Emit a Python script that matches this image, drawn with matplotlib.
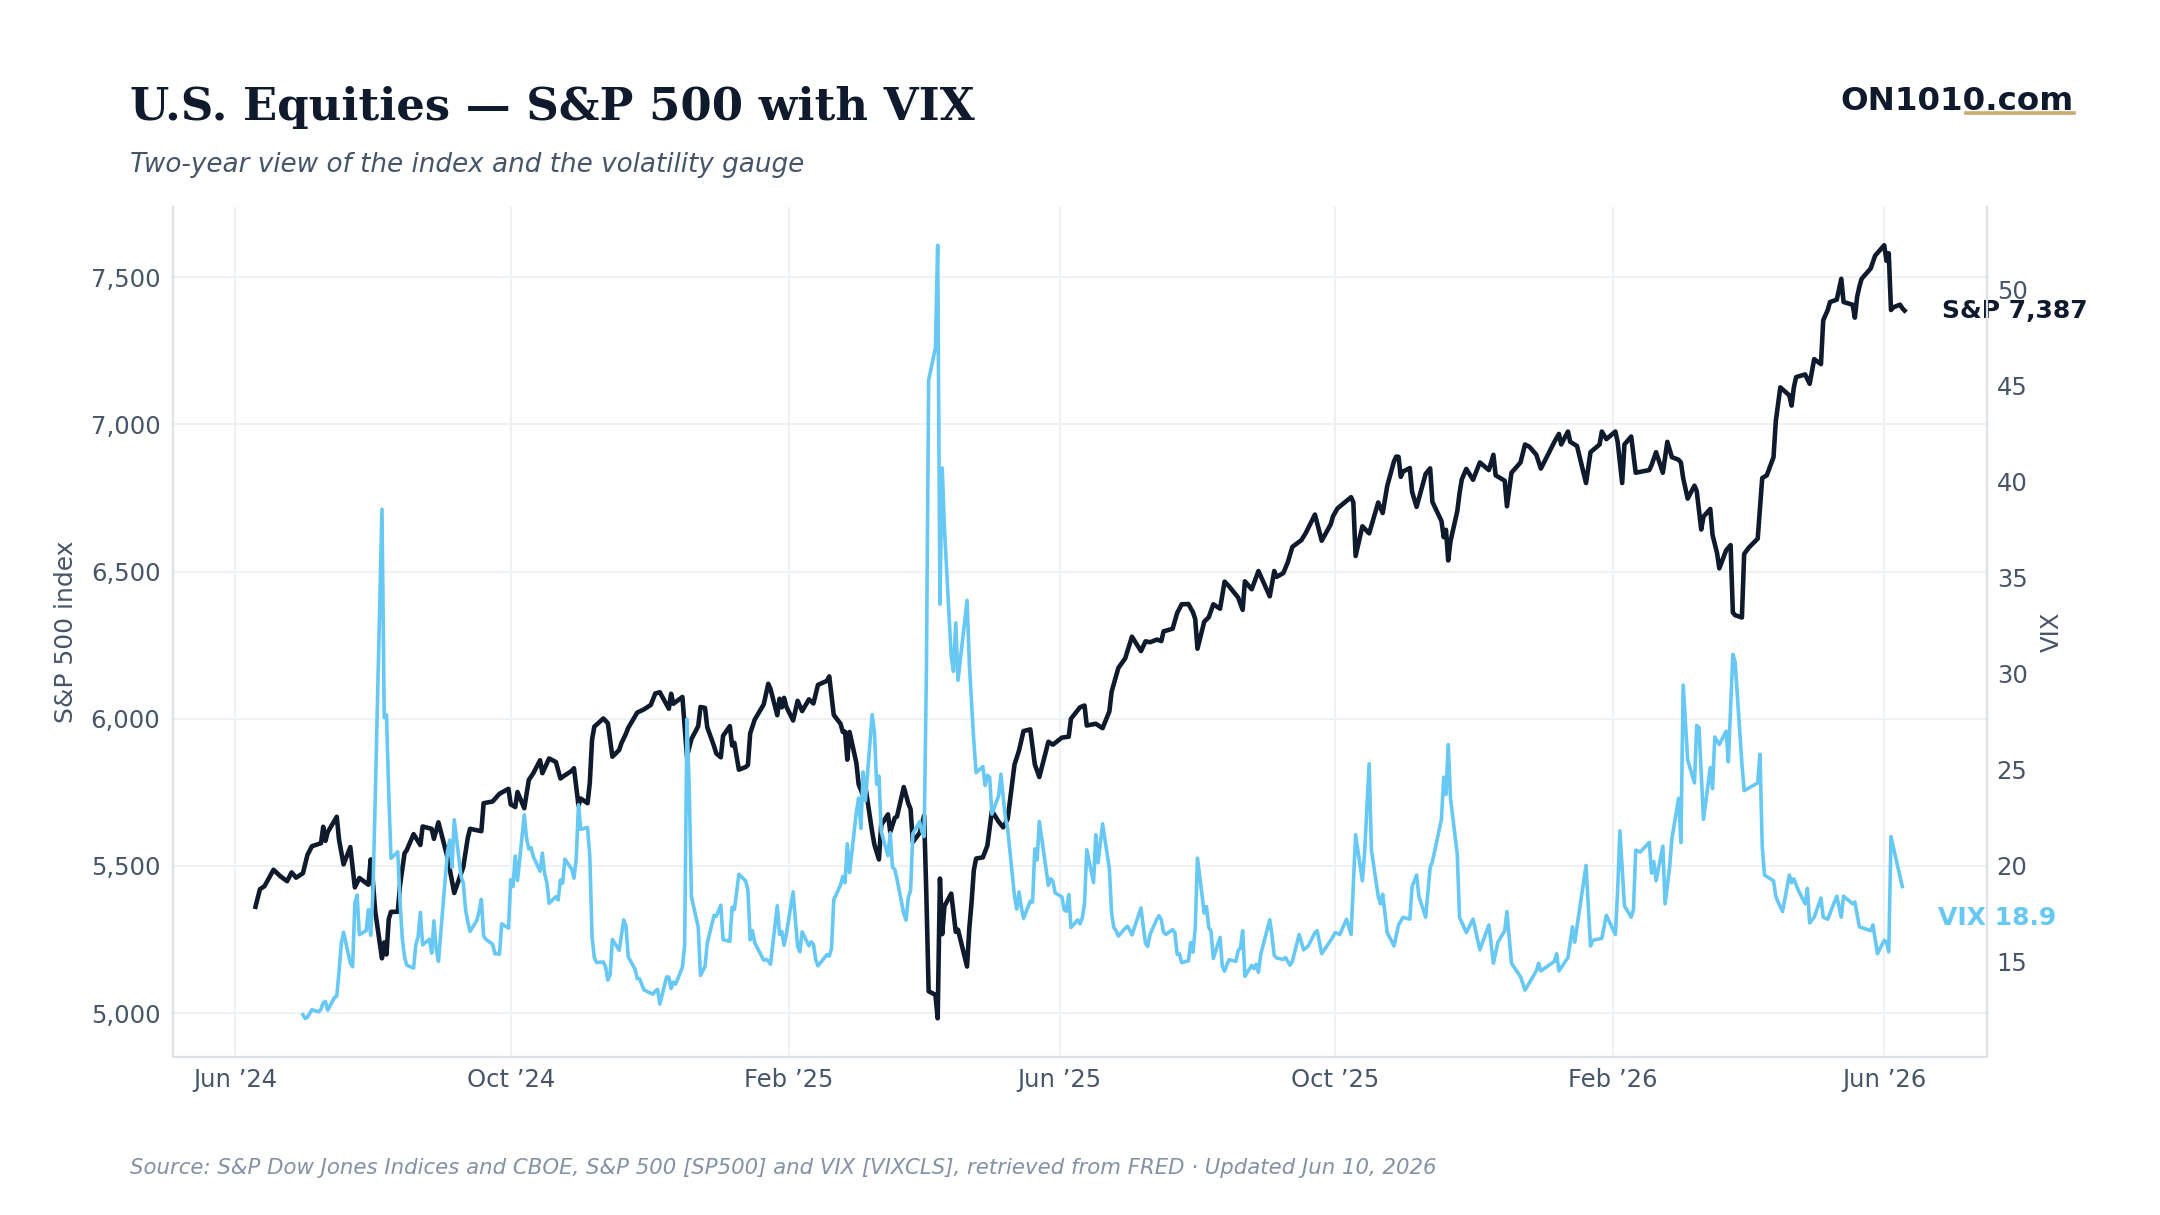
import matplotlib
matplotlib.use("Agg")
import matplotlib.pyplot as plt
import matplotlib.dates as mdates
from matplotlib.lines import Line2D
from matplotlib.ticker import FixedLocator, FuncFormatter
import pandas as pd

# S&P 500 closes
sp_dates = [
    "2024-06-10", "2024-06-12", "2024-06-14", "2024-06-18", "2024-06-21", "2024-06-24", "2024-06-26", "2024-06-28",
    "2024-07-01", "2024-07-03", "2024-07-05", "2024-07-09", "2024-07-10", "2024-07-11", "2024-07-12", "2024-07-16",
    "2024-07-17", "2024-07-19", "2024-07-22", "2024-07-24", "2024-07-26", "2024-07-30", "2024-07-31",
    "2024-08-01", "2024-08-02", "2024-08-05", "2024-08-06", "2024-08-07", "2024-08-08", "2024-08-09", "2024-08-12",
    "2024-08-13", "2024-08-15", "2024-08-16", "2024-08-19", "2024-08-22", "2024-08-23", "2024-08-27", "2024-08-28",
    "2024-08-30", "2024-09-03", "2024-09-06", "2024-09-10", "2024-09-12", "2024-09-13", "2024-09-18", "2024-09-19",
    "2024-09-23", "2024-09-26", "2024-09-30", "2024-10-01", "2024-10-03", "2024-10-04", "2024-10-07", "2024-10-09",
    "2024-10-11", "2024-10-14", "2024-10-15", "2024-10-18", "2024-10-21", "2024-10-23", "2024-10-25", "2024-10-28",
    "2024-10-29", "2024-10-31", "2024-11-01", "2024-11-04", "2024-11-05", "2024-11-06", "2024-11-07", "2024-11-11",
    "2024-11-13", "2024-11-15", "2024-11-18", "2024-11-19", "2024-11-21", "2024-11-22", "2024-11-26", "2024-11-29",
    "2024-12-02", "2024-12-04", "2024-12-06", "2024-12-10", "2024-12-11", "2024-12-12", "2024-12-16", "2024-12-18",
    "2024-12-20", "2024-12-23", "2024-12-24", "2024-12-26", "2024-12-27", "2024-12-30", "2024-12-31",
    "2025-01-02", "2025-01-03", "2025-01-06", "2025-01-07", "2025-01-08", "2025-01-10", "2025-01-13", "2025-01-14",
    "2025-01-15", "2025-01-17", "2025-01-21", "2025-01-23", "2025-01-24", "2025-01-27", "2025-01-28", "2025-01-29",
    "2025-01-30", "2025-01-31", "2025-02-03", "2025-02-05", "2025-02-07", "2025-02-10", "2025-02-12", "2025-02-14",
    "2025-02-18", "2025-02-19", "2025-02-21", "2025-02-24", "2025-02-25", "2025-02-26", "2025-02-27", "2025-02-28",
    "2025-03-03", "2025-03-04", "2025-03-06", "2025-03-07", "2025-03-10", "2025-03-11", "2025-03-13", "2025-03-14",
    "2025-03-17", "2025-03-18", "2025-03-20", "2025-03-21", "2025-03-24", "2025-03-26", "2025-03-27", "2025-03-28",
    "2025-03-31", "2025-04-02", "2025-04-03", "2025-04-04", "2025-04-07", "2025-04-08", "2025-04-09", "2025-04-10",
    "2025-04-11", "2025-04-14", "2025-04-16", "2025-04-17", "2025-04-21", "2025-04-22", "2025-04-23", "2025-04-24",
    "2025-04-25", "2025-04-28", "2025-04-30", "2025-05-02", "2025-05-05", "2025-05-07", "2025-05-09", "2025-05-12",
    "2025-05-14", "2025-05-16", "2025-05-19", "2025-05-21", "2025-05-23", "2025-05-27", "2025-05-29", "2025-06-02",
    "2025-06-05", "2025-06-06", "2025-06-10", "2025-06-12", "2025-06-13", "2025-06-17", "2025-06-20", "2025-06-23",
    "2025-06-24", "2025-06-27", "2025-06-30", "2025-07-03", "2025-07-07", "2025-07-09", "2025-07-11", "2025-07-14",
    "2025-07-16", "2025-07-17", "2025-07-21", "2025-07-23", "2025-07-25", "2025-07-28", "2025-07-30", "2025-07-31",
    "2025-08-01", "2025-08-04", "2025-08-06", "2025-08-08", "2025-08-11", "2025-08-13", "2025-08-15", "2025-08-19",
    "2025-08-21", "2025-08-22", "2025-08-25", "2025-08-28", "2025-09-02", "2025-09-04", "2025-09-05", "2025-09-08",
    "2025-09-10", "2025-09-12", "2025-09-16", "2025-09-18", "2025-09-22", "2025-09-25", "2025-09-29", "2025-09-30",
    "2025-10-02", "2025-10-08", "2025-10-09", "2025-10-10", "2025-10-13", "2025-10-16", "2025-10-20", "2025-10-22",
    "2025-10-24", "2025-10-27", "2025-10-28", "2025-10-29", "2025-10-30", "2025-10-31", "2025-11-03", "2025-11-04",
    "2025-11-06", "2025-11-10", "2025-11-12", "2025-11-13", "2025-11-17", "2025-11-18", "2025-11-19", "2025-11-20",
    "2025-11-21", "2025-11-24", "2025-11-25", "2025-11-26", "2025-11-28", "2025-12-01", "2025-12-04", "2025-12-08",
    "2025-12-10", "2025-12-11", "2025-12-15", "2025-12-16", "2025-12-18", "2025-12-22", "2025-12-24", "2025-12-26",
    "2025-12-29", "2025-12-31",
    "2026-01-02", "2026-01-06", "2026-01-08", "2026-01-09", "2026-01-12", "2026-01-13", "2026-01-16", "2026-01-20",
    "2026-01-22", "2026-01-26", "2026-01-27", "2026-01-29", "2026-02-02", "2026-02-03", "2026-02-05", "2026-02-06",
    "2026-02-09", "2026-02-11", "2026-02-17", "2026-02-18", "2026-02-20", "2026-02-23", "2026-02-25", "2026-02-27",
    "2026-03-02", "2026-03-03", "2026-03-04", "2026-03-06", "2026-03-09", "2026-03-10", "2026-03-12", "2026-03-13",
    "2026-03-16", "2026-03-17", "2026-03-19", "2026-03-20", "2026-03-23", "2026-03-25", "2026-03-26", "2026-03-27",
    "2026-03-30", "2026-03-31", "2026-04-02", "2026-04-06", "2026-04-08", "2026-04-10", "2026-04-13", "2026-04-14",
    "2026-04-16", "2026-04-20", "2026-04-21", "2026-04-22", "2026-04-23", "2026-04-27", "2026-04-29", "2026-05-01",
    "2026-05-04", "2026-05-05", "2026-05-07", "2026-05-08", "2026-05-11", "2026-05-13", "2026-05-14", "2026-05-18",
    "2026-05-19", "2026-05-20", "2026-05-21", "2026-05-22", "2026-05-26", "2026-05-28", "2026-06-01", "2026-06-02",
    "2026-06-03", "2026-06-04", "2026-06-05", "2026-06-08", "2026-06-09", "2026-06-10",
]
sp_close = [
    5361, 5421, 5431, 5487, 5465, 5448, 5478, 5460,
    5475, 5537, 5567, 5577, 5633, 5585, 5615, 5667,
    5589, 5505, 5564, 5427, 5459, 5436, 5522,
    5446, 5347, 5186, 5240, 5199, 5319, 5344, 5344,
    5434, 5543, 5554, 5608, 5571, 5634, 5626, 5592,
    5648, 5529, 5408, 5496, 5596, 5626, 5618, 5713,
    5719, 5745, 5762, 5709, 5700, 5751, 5696, 5792,
    5815, 5859, 5815, 5865, 5853, 5797, 5808, 5823,
    5832, 5705, 5729, 5713, 5782, 5929, 5973, 6001,
    5985, 5871, 5894, 5917, 5949, 5969, 6021, 6032,
    6047, 6086, 6090, 6034, 6085, 6051, 6074, 5872,
    5931, 5975, 6040, 6037, 5971, 5907, 5882,
    5869, 5942, 5975, 5909, 5918, 5827, 5836, 5843,
    5950, 5997, 6049, 6119, 6101, 6012, 6068, 6039,
    6071, 6041, 5994, 6061, 6026, 6066, 6052, 6115,
    6129, 6144, 6013, 5983, 5955, 5956, 5861, 5955,
    5850, 5778, 5738, 5770, 5615, 5572, 5522, 5639,
    5675, 5615, 5663, 5668, 5768, 5712, 5693, 5581,
    5612, 5671, 5397, 5074, 5062, 4982, 5457, 5268,
    5363, 5406, 5276, 5283, 5158, 5288, 5376, 5485,
    5525, 5529, 5569, 5687, 5650, 5631, 5660, 5844,
    5892, 5958, 5964, 5845, 5802, 5922, 5912, 5936,
    5939, 6000, 6039, 6045, 5977, 5983, 5968, 6025,
    6092, 6173, 6205, 6279, 6230, 6263, 6260, 6269,
    6264, 6297, 6306, 6359, 6389, 6390, 6362, 6339,
    6238, 6330, 6345, 6389, 6374, 6466, 6450, 6412,
    6370, 6467, 6440, 6502, 6416, 6502, 6482, 6495,
    6532, 6584, 6607, 6632, 6694, 6605, 6661, 6688,
    6715, 6753, 6735, 6553, 6654, 6630, 6735, 6699,
    6791, 6875, 6891, 6890, 6822, 6840, 6852, 6771,
    6720, 6832, 6851, 6737, 6672, 6617, 6642, 6538,
    6603, 6705, 6766, 6813, 6849, 6812, 6871, 6845,
    6897, 6827, 6809, 6722, 6836, 6871, 6932, 6924,
    6897, 6850,
    6880, 6941, 6968, 6932, 6976, 6941, 6927, 6801,
    6906, 6932, 6976, 6950, 6976, 6941, 6801, 6932,
    6959, 6836, 6845, 6862, 6906, 6836, 6941, 6889,
    6880, 6871, 6818, 6748, 6792, 6774, 6643, 6687,
    6713, 6625, 6563, 6511, 6572, 6590, 6361, 6352,
    6344, 6560, 6581, 6612, 6818, 6827, 6889, 7011,
    7126, 7099, 7064, 7126, 7161, 7170, 7138, 7222,
    7205, 7354, 7389, 7416, 7424, 7495, 7416, 7407,
    7363, 7433, 7468, 7495, 7530, 7574, 7609, 7556,
    7582, 7389, 7398, 7407, 7395, 7387,
]

# VIX closes
vix_dates = [
    "2024-07-01", "2024-07-02", "2024-07-03", "2024-07-05", "2024-07-08", "2024-07-09", "2024-07-10", "2024-07-11",
    "2024-07-12", "2024-07-15", "2024-07-16", "2024-07-17", "2024-07-18", "2024-07-19", "2024-07-22", "2024-07-23",
    "2024-07-24", "2024-07-25", "2024-07-26", "2024-07-29", "2024-07-30", "2024-07-31", "2024-08-01", "2024-08-02",
    "2024-08-05", "2024-08-06", "2024-08-07", "2024-08-08", "2024-08-09", "2024-08-12", "2024-08-13", "2024-08-14",
    "2024-08-15", "2024-08-16", "2024-08-19", "2024-08-20", "2024-08-21", "2024-08-22", "2024-08-23", "2024-08-26",
    "2024-08-27", "2024-08-28", "2024-08-29", "2024-08-30", "2024-09-03", "2024-09-04", "2024-09-05", "2024-09-06",
    "2024-09-09", "2024-09-10", "2024-09-11", "2024-09-12", "2024-09-13", "2024-09-16", "2024-09-17", "2024-09-18",
    "2024-09-19", "2024-09-20", "2024-09-23", "2024-09-24", "2024-09-25", "2024-09-26", "2024-09-27", "2024-09-30",
    "2024-10-01", "2024-10-02", "2024-10-03", "2024-10-04", "2024-10-07", "2024-10-08", "2024-10-09", "2024-10-10",
    "2024-10-11", "2024-10-14", "2024-10-15", "2024-10-16", "2024-10-17", "2024-10-18", "2024-10-21", "2024-10-22",
    "2024-10-23", "2024-10-24", "2024-10-25", "2024-10-28", "2024-10-29", "2024-10-30", "2024-10-31", "2024-11-01",
    "2024-11-04", "2024-11-05", "2024-11-06", "2024-11-07", "2024-11-08", "2024-11-11", "2024-11-12", "2024-11-13",
    "2024-11-14", "2024-11-15", "2024-11-18", "2024-11-19", "2024-11-20", "2024-11-21", "2024-11-22", "2024-11-25",
    "2024-11-26", "2024-11-27", "2024-11-29", "2024-12-02", "2024-12-03", "2024-12-04", "2024-12-05", "2024-12-06",
    "2024-12-09", "2024-12-10", "2024-12-11", "2024-12-12", "2024-12-13", "2024-12-16", "2024-12-17", "2024-12-18",
    "2024-12-19", "2024-12-20", "2024-12-23", "2024-12-24", "2024-12-26", "2024-12-27", "2024-12-30", "2024-12-31",
    "2025-01-02", "2025-01-03", "2025-01-06", "2025-01-07", "2025-01-08", "2025-01-10", "2025-01-13", "2025-01-14",
    "2025-01-15", "2025-01-16", "2025-01-17", "2025-01-21", "2025-01-22", "2025-01-23", "2025-01-24", "2025-01-27",
    "2025-01-28", "2025-01-29", "2025-01-30", "2025-01-31", "2025-02-03", "2025-02-04", "2025-02-05", "2025-02-06",
    "2025-02-07", "2025-02-10", "2025-02-11", "2025-02-12", "2025-02-13", "2025-02-14", "2025-02-18", "2025-02-19",
    "2025-02-20", "2025-02-21", "2025-02-24", "2025-02-25", "2025-02-26", "2025-02-27", "2025-02-28", "2025-03-03",
    "2025-03-04", "2025-03-05", "2025-03-06", "2025-03-07", "2025-03-10", "2025-03-11", "2025-03-12", "2025-03-13",
    "2025-03-14", "2025-03-17", "2025-03-18", "2025-03-19", "2025-03-20", "2025-03-21", "2025-03-24", "2025-03-25",
    "2025-03-26", "2025-03-27", "2025-03-28", "2025-03-31", "2025-04-01", "2025-04-02", "2025-04-03", "2025-04-04",
    "2025-04-07", "2025-04-08", "2025-04-09", "2025-04-10", "2025-04-11", "2025-04-14", "2025-04-15", "2025-04-16",
    "2025-04-17", "2025-04-21", "2025-04-22", "2025-04-23", "2025-04-24", "2025-04-25", "2025-04-28", "2025-04-29",
    "2025-04-30", "2025-05-01", "2025-05-02", "2025-05-05", "2025-05-06", "2025-05-07", "2025-05-08", "2025-05-09",
    "2025-05-12", "2025-05-13", "2025-05-14", "2025-05-15", "2025-05-16", "2025-05-19", "2025-05-20", "2025-05-21",
    "2025-05-22", "2025-05-23", "2025-05-27", "2025-05-28", "2025-05-29", "2025-05-30", "2025-06-02", "2025-06-03",
    "2025-06-04", "2025-06-05", "2025-06-06", "2025-06-09", "2025-06-10", "2025-06-11", "2025-06-12", "2025-06-13",
    "2025-06-16", "2025-06-17", "2025-06-18", "2025-06-20", "2025-06-23", "2025-06-24", "2025-06-25", "2025-06-26",
    "2025-06-27", "2025-06-30", "2025-07-01", "2025-07-02", "2025-07-03", "2025-07-07", "2025-07-08", "2025-07-09",
    "2025-07-10", "2025-07-11", "2025-07-14", "2025-07-15", "2025-07-16", "2025-07-17", "2025-07-18", "2025-07-21",
    "2025-07-22", "2025-07-23", "2025-07-24", "2025-07-25", "2025-07-28", "2025-07-29", "2025-07-30", "2025-07-31",
    "2025-08-01", "2025-08-04", "2025-08-05", "2025-08-06", "2025-08-07", "2025-08-08", "2025-08-11", "2025-08-12",
    "2025-08-13", "2025-08-14", "2025-08-15", "2025-08-18", "2025-08-19", "2025-08-20", "2025-08-21", "2025-08-22",
    "2025-08-25", "2025-08-26", "2025-08-27", "2025-08-28", "2025-08-29", "2025-09-02", "2025-09-03", "2025-09-04",
    "2025-09-05", "2025-09-08", "2025-09-09", "2025-09-11", "2025-09-12", "2025-09-15", "2025-09-17", "2025-09-19",
    "2025-09-22", "2025-09-23", "2025-09-25", "2025-09-29", "2025-10-01", "2025-10-03", "2025-10-06", "2025-10-08",
    "2025-10-10", "2025-10-13", "2025-10-14", "2025-10-16", "2025-10-17", "2025-10-20", "2025-10-21", "2025-10-22",
    "2025-10-24", "2025-10-27", "2025-10-29", "2025-10-31", "2025-11-03", "2025-11-04", "2025-11-06", "2025-11-07",
    "2025-11-10", "2025-11-12", "2025-11-13", "2025-11-17", "2025-11-18", "2025-11-19", "2025-11-20", "2025-11-21",
    "2025-11-24", "2025-11-25", "2025-11-28", "2025-12-01", "2025-12-04", "2025-12-08", "2025-12-10", "2025-12-12",
    "2025-12-15", "2025-12-16", "2025-12-18", "2025-12-22", "2025-12-24", "2025-12-26", "2025-12-29", "2025-12-30",
    "2025-12-31",
    "2026-01-06", "2026-01-07", "2026-01-08", "2026-01-12", "2026-01-14", "2026-01-15", "2026-01-20", "2026-01-22",
    "2026-01-23", "2026-01-27", "2026-01-29", "2026-02-02", "2026-02-03", "2026-02-04", "2026-02-06", "2026-02-09",
    "2026-02-10", "2026-02-11", "2026-02-13", "2026-02-17", "2026-02-18", "2026-02-19", "2026-02-20", "2026-02-23",
    "2026-02-24", "2026-02-26", "2026-02-27", "2026-03-02", "2026-03-03", "2026-03-04", "2026-03-06", "2026-03-09",
    "2026-03-10", "2026-03-11", "2026-03-13", "2026-03-16", "2026-03-17", "2026-03-18", "2026-03-20", "2026-03-23",
    "2026-03-24", "2026-03-26", "2026-03-27", "2026-03-30", "2026-03-31", "2026-04-06", "2026-04-07", "2026-04-08",
    "2026-04-09", "2026-04-13", "2026-04-14", "2026-04-15", "2026-04-17", "2026-04-20", "2026-04-21", "2026-04-22",
    "2026-04-24", "2026-04-27", "2026-04-28", "2026-04-29", "2026-05-01", "2026-05-04", "2026-05-05", "2026-05-07",
    "2026-05-11", "2026-05-13", "2026-05-14", "2026-05-18", "2026-05-19", "2026-05-21", "2026-05-26", "2026-05-27",
    "2026-05-29", "2026-06-01", "2026-06-02", "2026-06-03", "2026-06-04", "2026-06-09",
]
vix_close = [
    12.22, 12.03, 12.09, 12.48, 12.37, 12.51, 12.85, 12.91,
    12.46, 13.12, 13.19, 14.48, 15.93, 16.52, 14.91, 14.72,
    18.04, 18.46, 16.39, 16.60, 17.69, 16.36, 18.59, 23.39,
    38.57, 27.71, 27.85, 23.79, 20.37, 20.71, 18.12, 16.19,
    15.23, 14.80, 14.65, 15.88, 16.27, 17.55, 15.86, 16.15,
    15.43, 17.11, 15.65, 15.00, 20.72, 21.32, 19.90, 22.38,
    19.45, 19.08, 17.69, 17.07, 16.56, 17.14, 17.61, 18.23,
    16.33, 16.15, 15.89, 15.39, 15.41, 15.37, 16.96, 16.73,
    19.26, 18.90, 20.49, 19.21, 22.64, 21.42, 20.86, 20.93,
    20.46, 19.70, 20.64, 19.58, 19.11, 18.03, 18.37, 18.20,
    19.24, 19.08, 20.33, 19.80, 19.34, 20.35, 23.16, 21.88,
    21.98, 20.49, 16.27, 15.20, 14.94, 14.97, 14.71, 14.02,
    14.31, 16.14, 15.58, 16.35, 17.16, 16.87, 15.24, 14.60,
    14.10, 14.10, 13.51, 13.34, 13.30, 13.45, 13.54, 12.77,
    14.19, 14.18, 13.58, 13.92, 13.81, 14.69, 15.87, 27.62,
    24.09, 18.36, 16.78, 14.27, 14.73, 15.95, 17.40, 17.35,
    17.93, 16.13, 16.04, 17.82, 17.70, 19.54, 19.19, 18.71,
    16.12, 16.60, 15.97, 15.06, 15.10, 15.02, 14.85, 17.90,
    16.41, 16.56, 15.84, 16.43, 18.62, 17.21, 15.77, 15.50,
    16.54, 15.81, 16.02, 15.89, 15.10, 14.77, 15.35, 15.27,
    15.66, 18.21, 18.98, 19.43, 19.10, 21.13, 19.63, 22.78,
    23.51, 21.93, 24.87, 23.37, 27.86, 26.92, 24.23, 24.66,
    21.77, 20.51, 21.70, 19.90, 19.80, 19.28, 17.48, 17.15,
    18.33, 18.69, 21.65, 22.28, 21.77, 21.51, 30.02, 45.31,
    46.98, 52.33, 33.62, 40.72, 37.56, 30.89, 30.12, 32.64,
    29.65, 33.82, 30.57, 28.45, 26.47, 24.84, 25.15, 24.17,
    24.70, 24.60, 22.68, 23.64, 24.76, 23.55, 22.48, 21.90,
    18.39, 17.72, 18.62, 17.83, 17.24, 18.14, 18.09, 20.87,
    20.28, 22.29, 18.96, 19.31, 19.18, 18.57, 18.36, 17.69,
    17.61, 18.48, 16.77, 17.16, 16.95, 17.26, 18.02, 20.82,
    19.11, 21.60, 20.14, 22.17, 19.83, 17.48, 16.76, 16.59,
    16.32, 16.73, 16.83, 16.64, 16.38, 17.79, 16.81, 15.94,
    15.78, 16.40, 17.20, 17.38, 17.16, 16.52, 16.41, 16.65,
    16.50, 15.37, 15.39, 14.93, 15.03, 15.98, 15.48, 16.72,
    20.38, 17.52, 17.85, 16.77, 16.57, 15.15, 16.25, 14.73,
    14.49, 14.83, 15.09, 15.00, 15.57, 15.69, 16.60, 14.22,
    14.79, 14.62, 14.85, 14.43, 15.36, 17.17, 16.35, 15.30,
    15.18, 15.1, 15.2, 14.8, 15.0, 16.4, 15.6, 15.8,
    16.5, 16.6, 15.4, 16.1, 16.5, 16.4, 17.2, 16.4,
    21.6, 19.2, 20.7, 25.3, 20.8, 18.4, 18.0, 18.5,
    16.5, 15.8, 16.9, 17.3, 17.2, 18.9, 19.5, 18.4,
    17.3, 19.9, 20.2, 22.4, 24.6, 23.7, 26.3, 23.5,
    20.6, 17.3, 16.5, 17.2, 15.6, 16.9, 14.9, 16.0,
    16.6, 17.6, 14.9, 14.2, 13.5, 13.9, 14.5, 14.9,
    14.5,
    15.0, 15.4, 14.5, 15.2, 16.8, 16.0, 20.0, 15.8,
    16.1, 16.2, 17.4, 16.4, 18.7, 21.8, 17.9, 17.3,
    17.7, 20.8, 20.7, 21.2, 19.6, 20.2, 19.2, 21.0,
    18.0, 19.9, 21.4, 23.5, 21.2, 29.4, 25.5, 24.3,
    27.3, 27.2, 22.4, 25.1, 24.0, 26.7, 26.3, 27.0,
    25.4, 31.0, 30.6, 25.3, 23.9, 24.3, 25.8, 21.0,
    19.5, 19.2, 18.4, 18.1, 17.6, 19.5, 19.1, 19.3,
    18.7, 18.0, 18.8, 17.0, 17.3, 18.3, 17.3, 17.2,
    18.4, 17.3, 18.4, 18.0, 18.1, 16.8, 16.6, 16.9,
    15.4, 16.1, 16.0, 15.5, 21.5, 18.9,
]

sp_ticks = [5000, 5500, 6000, 6500, 7000, 7500]
vix_ticks = [15, 20, 25, 30, 35, 40, 45, 50]

title = "U.S. Equities \u2014 S&P 500 with VIX"
subtitle = "Two-year view of the index and the volatility gauge"
source = ("Source: S&P Dow Jones Indices and CBOE, S&P 500 [SP500] and VIX [VIXCLS], "
          "retrieved from FRED \u00b7 Updated Jun 10, 2026")

NAVY = "#0f1b2d"
SKY = "#66c8f3"
SLATE = "#475569"
MUTED = "#8391a7"
GRID = "#eef1f5"
AXIS = "#dde2ea"
GOLD = "#c9ab72"

plt.rcParams["font.family"] = "DejaVu Sans"

sp_x = pd.to_datetime(sp_dates)
vix_x = pd.to_datetime(vix_dates)

W, H = 2160, 1215
fig = plt.figure(figsize=(W / 100, H / 100), dpi=100)
fig.patch.set_facecolor("white")

ax = fig.add_axes([173 / W, 1 - 1057 / H, (1987 - 173) / W, (1057 - 206.6) / H])
ax2 = ax.twinx()

ax.plot(sp_x, sp_close, color=NAVY, lw=3.3, solid_joinstyle="round", zorder=3)
ax2.plot(vix_x, vix_close, color=SKY, lw=2.6, solid_joinstyle="round", zorder=3)

ax.set_axisbelow(True)
ax.grid(True, color=GRID, lw=1.3)
ax2.grid(False)

ax.yaxis.set_major_locator(FixedLocator(sp_ticks))
ax.yaxis.set_major_formatter(FuncFormatter(lambda v, p: f"{v:,.0f}"))
ax2.yaxis.set_major_locator(FixedLocator(vix_ticks))

ax.xaxis.set_major_locator(mdates.MonthLocator(bymonth=[2, 6, 10]))
ax.xaxis.set_major_formatter(mdates.DateFormatter("%b \u2019%y"))

for a in (ax, ax2):
    for s in a.spines.values():
        s.set_visible(False)
ax.spines["left"].set_visible(True)
ax.spines["bottom"].set_visible(True)
ax2.spines["right"].set_visible(True)
for s in (ax.spines["left"], ax.spines["bottom"], ax2.spines["right"]):
    s.set_color(AXIS)
    s.set_linewidth(1.6)

ax.tick_params(axis="y", length=0, labelsize=17.5, labelcolor=SLATE, pad=9)
ax.tick_params(axis="x", length=0, labelsize=17.5, labelcolor=SLATE, pad=8)
ax2.tick_params(axis="y", length=0, labelsize=17.5, labelcolor=SLATE, pad=7)

ax.set_ylabel("S&P 500 index", fontsize=18, color=SLATE, labelpad=9)
ax2.set_ylabel("VIX", fontsize=17.5, color=SLATE, labelpad=9)
ax2.yaxis.label.set_rotation(90)

ax.annotate(f"S&P {sp_close[-1]:,.0f}", xy=(sp_x[-1], sp_close[-1]), xytext=(27, 0),
            textcoords="offset points", ha="left", va="center", fontsize=18,
            fontweight="bold", color=NAVY, annotation_clip=False, zorder=5)
ax2.annotate(f"VIX {vix_close[-1]:.1f}", xy=(vix_x[-1], vix_close[-1]), xytext=(26, -23),
             textcoords="offset points", ha="left", va="center", fontsize=18,
             fontweight="bold", color=SKY, annotation_clip=False, zorder=5)

fig.text(129.5 / W, 1 - 120 / H, title, family="DejaVu Serif", fontweight="bold",
         fontsize=32.4, color=NAVY, ha="left", va="baseline")
fig.text(129.5 / W, 1 - 172 / H, subtitle, style="italic", fontsize=18.9,
         color=SLATE, ha="left", va="baseline")
fig.text(2073.5 / W, 1 - 110 / H, "ON1010.com", fontweight="bold", fontsize=23.4,
         color=NAVY, ha="right", va="baseline")
fig.add_artist(Line2D([1966 / W, 2074 / W], [1 - 112.5 / H, 1 - 112.5 / H],
                      transform=fig.transFigure, color=GOLD, lw=2.6))
fig.text(129.5 / W, 1 - 1174 / H, source, style="italic", fontsize=15.3,
         color=MUTED, ha="left", va="baseline")

fig.savefig("out.png", dpi=100, facecolor="white")
